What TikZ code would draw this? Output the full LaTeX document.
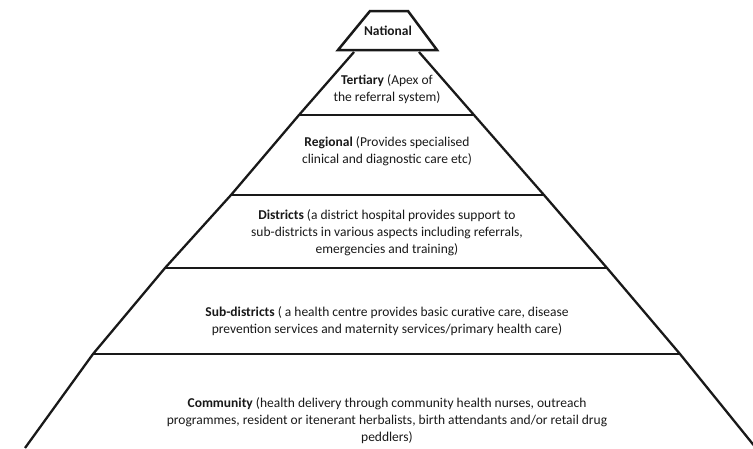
\documentclass[tikz,border=0pt]{standalone}
\usepackage{fontspec}
\setmainfont{Carlito}
\begin{document}
\begin{tikzpicture}[x=1pt,y=-1pt,
  side/.style={line width=2.3pt, draw=black!90},
  divider/.style={line width=2.9pt, draw=black!90},
  lbl/.style={align=center, font=\fontsize{13.5}{17}\selectfont, text=black!90, inner sep=0pt}]
\useasboundingbox (0,0) rectangle (753,448);
\clip (0,0) rectangle (753,448);
% side corner points
\coordinate (L0) at (354,52);  \coordinate (R0) at (419,52);
\coordinate (L1) at (299,115); \coordinate (R1) at (474,115);
\coordinate (L2) at (231,195); \coordinate (R2) at (544,195);
\coordinate (L3) at (165,268); \coordinate (R3) at (607,268);
\coordinate (L4) at (93,354);  \coordinate (R4) at (680,354);
\coordinate (L5) at (25,448);  \coordinate (R5) at (756,448);
% national apex
\coordinate (NA) at (370,11); \coordinate (NB) at (408,11);
\coordinate (NC) at (437,50); \coordinate (ND) at (338,50);
\draw[side, line width=2.5pt] (NA) -- (NB) -- (NC) -- (ND) -- cycle;
% sides
\draw[side] (L0) -- (L1) -- (L2) -- (L3) -- (L4) -- (L5);
\draw[side] (R0) -- (R1) -- (R2) -- (R3) -- (R4) -- (R5);
% dividers
\draw[divider] (L1) -- (R1);
\draw[divider] (L2) -- (R2);
\draw[divider] (L3) -- (R3);
\draw[divider] (L4) -- (R4);
% labels
\node[lbl] (nat) at (388,31) {\textbf{National}};
\node[lbl] (ter) at (387,89) {\textbf{Tertiary} (Apex of\\the referral system)};
\node[lbl] (reg) at (387,151) {\textbf{Regional} (Provides specialised\\clinical and diagnostic care etc)};
\node[lbl] (dis) at (387,233) {\textbf{Districts} (a district hospital provides support to\\sub-districts in various aspects including referrals,\\emergencies and training)};
\node[lbl] (sub) at (387,321) {\textbf{Sub-districts} ( a health centre provides basic curative care, disease\\prevention services and maternity services/primary health care)};
\node[lbl] (com) at (387,421) {\textbf{Community} (health delivery through community health nurses, outreach\\programmes, resident or itenerant herbalists, birth attendants and/or retail drug\\peddlers)};
\end{tikzpicture}
\end{document}
